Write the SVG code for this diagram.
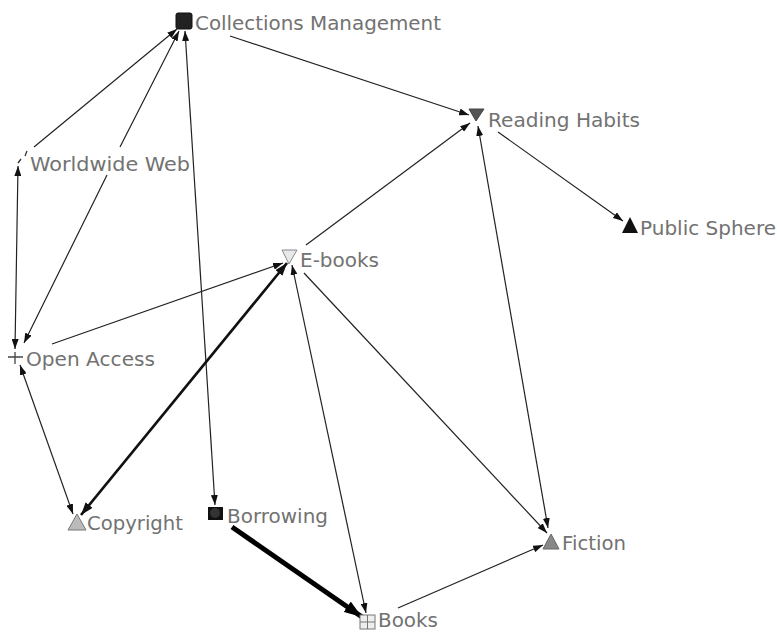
<svg xmlns="http://www.w3.org/2000/svg" width="777" height="632" viewBox="0 0 777 632">
<style>
.lbl{font-family:"DejaVu Sans","Liberation Sans",sans-serif;font-size:19px;fill:#727272}
.e{fill:none;stroke:#222;stroke-width:1.2}
.e2{fill:none;stroke:#111;stroke-width:2.6}
.e3{fill:none;stroke:#000;stroke-width:5}
</style>
<defs>
<marker id="a" viewBox="0 0 10 7" refX="10" refY="3.5" markerWidth="10" markerHeight="7" markerUnits="userSpaceOnUse" orient="auto-start-reverse"><path d="M0,0 L10,3.5 L0,7 z" fill="#111"/></marker>
<marker id="a2" viewBox="0 0 10 7" refX="10" refY="3.5" markerWidth="13" markerHeight="9" markerUnits="userSpaceOnUse" orient="auto-start-reverse"><path d="M0,0 L10,3.5 L0,7 z" fill="#111"/></marker>
<marker id="a3" viewBox="0 0 10 7" refX="10" refY="3.5" markerWidth="18" markerHeight="13" markerUnits="userSpaceOnUse" orient="auto-start-reverse"><path d="M0,0 L10,3.5 L0,7 z" fill="#000"/></marker>
</defs>
<rect width="777" height="632" fill="#fff"/>
<g id="connectors">
<path class="e" d="M230,36 L469,115" marker-end="url(#a)"/>
<path class="e" d="M34,147 L177,29" marker-end="url(#a)"/>
<path class="e" d="M24,343 L107,175 M120,147 L179,31" marker-start="url(#a)" marker-end="url(#a)"/>
<path class="e" d="M185,31 L215,505" marker-start="url(#a)" marker-end="url(#a)"/>
<path class="e" d="M18,166 L15,349" marker-start="url(#a)" marker-end="url(#a)"/>
<path class="e" d="M52,344 L283,263" marker-end="url(#a)"/>
<path class="e" d="M20,365 L73,514" marker-start="url(#a)" marker-end="url(#a)"/>
<path class="e2" d="M81,515 L287,263" marker-start="url(#a2)" marker-end="url(#a2)"/>
<path class="e" d="M306,245 L470,123" marker-end="url(#a)"/>
<path class="e" d="M292,265 L366,613" marker-start="url(#a)" marker-end="url(#a)"/>
<path class="e" d="M304,273 L547,533" marker-end="url(#a)"/>
<path class="e" d="M478,126 L548,528" marker-start="url(#a)" marker-end="url(#a)"/>
<path class="e" d="M498,132 L623,221" marker-end="url(#a)"/>
<path class="e3" d="M232,527 L362,617" marker-end="url(#a3)"/>
<path class="e" d="M398,608 L543,545" marker-end="url(#a)"/>
</g>
<g id="n-collections">
<rect x="176" y="13" width="16" height="16" rx="2" fill="#222" stroke="#111"/>
<text class="lbl" x="195" y="30" textLength="246" lengthAdjust="spacingAndGlyphs">Collections Management</text>
</g>
<g id="n-worldwide">
<path d="M18,163 L21,159 M25,156 L27,151" fill="none" stroke="#333" stroke-width="1.3"/>
<text class="lbl" x="30" y="171" textLength="160" lengthAdjust="spacingAndGlyphs">Worldwide Web</text>
</g>
<g id="n-openaccess">
<path d="M8,357 L23,357 M15,352 L15,364" fill="none" stroke="#444" stroke-width="1.3"/>
<text class="lbl" x="26" y="366" textLength="129" lengthAdjust="spacingAndGlyphs">Open Access</text>
</g>
<g id="n-copyright">
<polygon points="68,530 77,514 86,530" fill="#bbb" stroke="#777"/>
<text class="lbl" x="87" y="530" textLength="96" lengthAdjust="spacingAndGlyphs">Copyright</text>
</g>
<g id="n-borrowing">
<rect x="208" y="507" width="15" height="13" fill="#111"/>
<circle cx="215" cy="513" r="5" fill="#333"/>
<text class="lbl" x="227" y="523" textLength="101" lengthAdjust="spacingAndGlyphs">Borrowing</text>
</g>
<g id="n-books">
<rect x="360" y="615" width="15" height="14" fill="#eee" stroke="#777"/>
<path d="M367.5,615 L367.5,629 M360,622 L375,622" stroke="#777" fill="none"/>
<text class="lbl" x="378" y="627" textLength="60" lengthAdjust="spacingAndGlyphs">Books</text>
</g>
<g id="n-fiction">
<polygon points="543,549 551,534 559,549" fill="#888" stroke="#666"/>
<text class="lbl" x="562" y="550" textLength="64" lengthAdjust="spacingAndGlyphs">Fiction</text>
</g>
<g id="n-ebooks">
<polygon points="282,250 297,250 289,264" fill="#e8e8e8" stroke="#888"/>
<text class="lbl" x="300" y="267" textLength="79" lengthAdjust="spacingAndGlyphs">E-books</text>
</g>
<g id="n-reading">
<polygon points="469,109 484,109 476,121" fill="#555" stroke="#444"/>
<text class="lbl" x="488" y="127" textLength="152" lengthAdjust="spacingAndGlyphs">Reading Habits</text>
</g>
<g id="n-public">
<polygon points="622,233 630,217 638,233" fill="#111"/>
<text class="lbl" x="640" y="235" textLength="136" lengthAdjust="spacingAndGlyphs">Public Sphere</text>
</g>
</svg>
